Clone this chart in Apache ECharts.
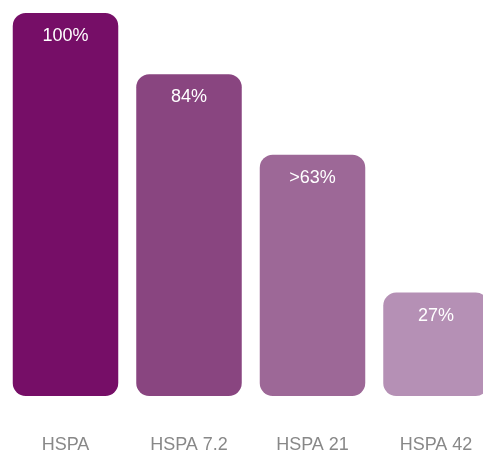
<!DOCTYPE html>
<html><head><meta charset="utf-8">
<script src="https://cdn.jsdelivr.net/npm/echarts@6/dist/echarts.min.js"></script>
<style>html,body{margin:0;padding:0;background:#fff}#c{width:483px;height:450px}</style>
</head><body><div id="c"></div>
<script>
const categories = ['HSPA', 'HSPA 7.2', 'HSPA 21', 'HSPA 42'];
const values = [100, 84, 63, 27];
const valueLabels = ['100%', '84%', '>63%', '27%'];
const colors = ['#760e67', '#894580', '#9d6897', '#b590b5'];

const chart = echarts.init(document.getElementById('c'), null, {renderer: 'canvas'});
chart.setOption({
  animation: false,
  grid: {left: 3.75, top: 13, width: 494, bottom: 54, containLabel: false, outerBoundsMode: 'none'},
  xAxis: {
    type: 'category', data: categories,
    axisLine: {show: false}, axisTick: {show: false},
    axisLabel: {color: '#888888', fontSize: 18, fontFamily: 'Liberation Sans, Arial, sans-serif', margin: 40}
  },
  yAxis: {type: 'value', min: 0, max: 100, show: false, splitLine: {show: false}},
  series: [{
    type: 'bar',
    barWidth: 105.5,
    data: values.map((v, i) => ({value: v, itemStyle: {color: colors[i]}})),
    itemStyle: {borderRadius: 13},
    label: {
      show: true, position: 'insideTop', distance: 14,
      color: '#ffffff', fontSize: 18, fontFamily: 'Liberation Sans, Arial, sans-serif',
      formatter: p => valueLabels[p.dataIndex]
    }
  }]
});
</script></body></html>
